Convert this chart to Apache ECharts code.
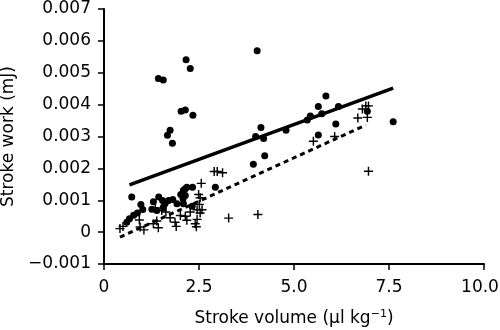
<!DOCTYPE html>
<html>
<head>
<meta charset="utf-8">
<script src="https://cdn.jsdelivr.net/npm/echarts@6/dist/echarts.min.js"></script>
<style>html,body{margin:0;padding:0;background:#fff}#c{width:500px;height:330px}</style>
</head>
<body>
<div id="c"></div>
<script>
// Stroke volume (µl/kg), stroke work (mJ)
var dotPoints = [
  [1.43,0.00482],[1.56,0.00477],[2.16,0.00541],[2.27,0.00513],[4.03,0.00569],
  [2.03,0.00379],[2.14,0.00383],[2.34,0.00367],[1.74,0.00320],[1.67,0.00304],[1.80,0.00279],
  [4.13,0.00328],[3.99,0.00300],[4.20,0.00294],[4.79,0.00320],[5.35,0.00352],[5.43,0.00364],
  [5.64,0.00394],[5.84,0.00427],[5.73,0.00371],[6.17,0.00394],[6.10,0.00339],[5.64,0.00305],
  [6.93,0.00379],[7.61,0.00346],[3.93,0.00213],[4.23,0.00240],
  [0.60,0.00031],[0.67,0.00042],[0.78,0.00053],[0.88,0.00060],[0.73,0.00110],[0.97,0.00087],
  [1.02,0.00071],[1.26,0.00072],[1.30,0.00095],[1.39,0.00068],[1.44,0.00110],[1.54,0.00099],
  [1.61,0.00090],[1.56,0.00078],[1.70,0.00099],[1.81,0.00102],[1.92,0.00089],[2.02,0.00118],
  [2.08,0.00105],[2.09,0.00131],[2.14,0.00136],[2.18,0.00141],[2.33,0.00141],[2.14,0.00115],
  [2.32,0.00081],[2.09,0.00089],[2.93,0.00141]
];
var crossPoints = [
  [0.42,0.00011],[0.50,0.00018],[0.93,0.00038],[0.95,0.00016],[1.05,0.00007],[1.30,0.00026],
  [1.35,0.00076],[1.39,0.00035],[1.43,0.00014],[1.52,0.00068],[1.63,0.00063],[1.74,0.00045],
  [1.87,0.00031],[1.90,0.00018],[2.01,0.00052],[2.14,0.00050],[2.18,0.00037],[2.27,0.00063],
  [2.40,0.00026],[2.43,0.00017],[2.45,0.00070],[2.45,0.00040],[2.49,0.00118],[2.53,0.00108],
  [2.51,0.00087],[2.58,0.00070],[2.53,0.00060],[2.56,0.00153],[2.90,0.00190],[2.98,0.00190],
  [3.12,0.00186],[3.28,0.00044],[4.05,0.00055],[5.51,0.00285],[6.07,0.00300],[6.68,0.00358],
  [6.93,0.00360],[6.80,0.00386],[6.89,0.00396],[6.96,0.00396],[6.96,0.00191]
];
var solidFit = [[0.67,0.00148],[7.61,0.00452]];
var dashedFit = [[0.42,-0.00016],[6.89,0.00336]];
var xTicks = {min:0, max:10, interval:2.5};
var yTicks = {min:-0.001, max:0.007, interval:0.001};

var FONT = '"DejaVu Sans", sans-serif';
var FS = 17;
var plusPath = 'path://M0.42,0 L0.58,0 L0.58,0.42 L1,0.42 L1,0.58 L0.58,0.58 L0.58,1 L0.42,1 L0.42,0.58 L0,0.58 L0,0.42 L0.42,0.42 Z';

var chart = echarts.init(document.getElementById('c'), null, {renderer:'canvas'});
chart.setOption({
  animation: false,
  backgroundColor: '#fff',
  grid: {left:104, right:16, top:9, bottom:66, containLabel:false, outerBoundsMode:'none'},
  xAxis: {
    type:'value', min:xTicks.min, max:xTicks.max, interval:xTicks.interval,
    name:'{a|Stroke volume (µl kg}{s|−1}{a|)}',
    nameLocation:'middle', nameGap:45,
    nameTextStyle:{rich:{
      a:{fontFamily:FONT, fontSize:FS, color:'#000', lineHeight:20},
      s:{fontFamily:FONT, fontSize:11, color:'#000', lineHeight:20, verticalAlign:'top', padding:[0,0,8,0]}
    }},
    axisLine:{onZero:false, lineStyle:{color:'#000', width:2}},
    axisTick:{length:6, lineStyle:{color:'#000', width:1.5}},
    axisLabel:{margin:15, fontFamily:FONT, fontSize:FS, color:'#000',
      rich:{r:{fontFamily:FONT, fontSize:FS, color:'#000', padding:[0,8,0,0]}},
      formatter:function(v){if(v===0) return '0'; if(v===10) return '{r|10.0}'; return v.toFixed(1);}},
    splitLine:{show:false}
  },
  yAxis: {
    type:'value', min:yTicks.min, max:yTicks.max, interval:yTicks.interval,
    name:'Stroke work (mJ)', nameLocation:'middle', nameGap:83,
    nameTextStyle:{fontFamily:FONT, fontSize:FS, color:'#000'},
    axisLine:{onZero:false, lineStyle:{color:'#000', width:2}},
    axisTick:{length:6, lineStyle:{color:'#000', width:1.5}},
    axisLabel:{margin:13, fontFamily:FONT, fontSize:FS, color:'#000',
      formatter:function(v){var r=Math.round(v*1000); if(r===0) return '0'; var s=(Math.abs(r)/1000).toFixed(3); return (r<0?'−':'')+s;}},
    splitLine:{show:false}
  },
  series: [
    {type:'line', data:solidFit, symbol:'none', lineStyle:{color:'#000', width:3.5}, z:3},
    {type:'line', data:dashedFit, symbol:'none', lineStyle:{color:'#000', width:3, type:[5,4]}, z:3},
    {type:'scatter', data:dotPoints, symbol:'circle', symbolSize:7, itemStyle:{color:'#000', opacity:1}, z:4},
    {type:'scatter', data:crossPoints, symbol:plusPath, symbolSize:9, itemStyle:{color:'#000', opacity:1}, z:4}
  ]
});
</script>
</body>
</html>
